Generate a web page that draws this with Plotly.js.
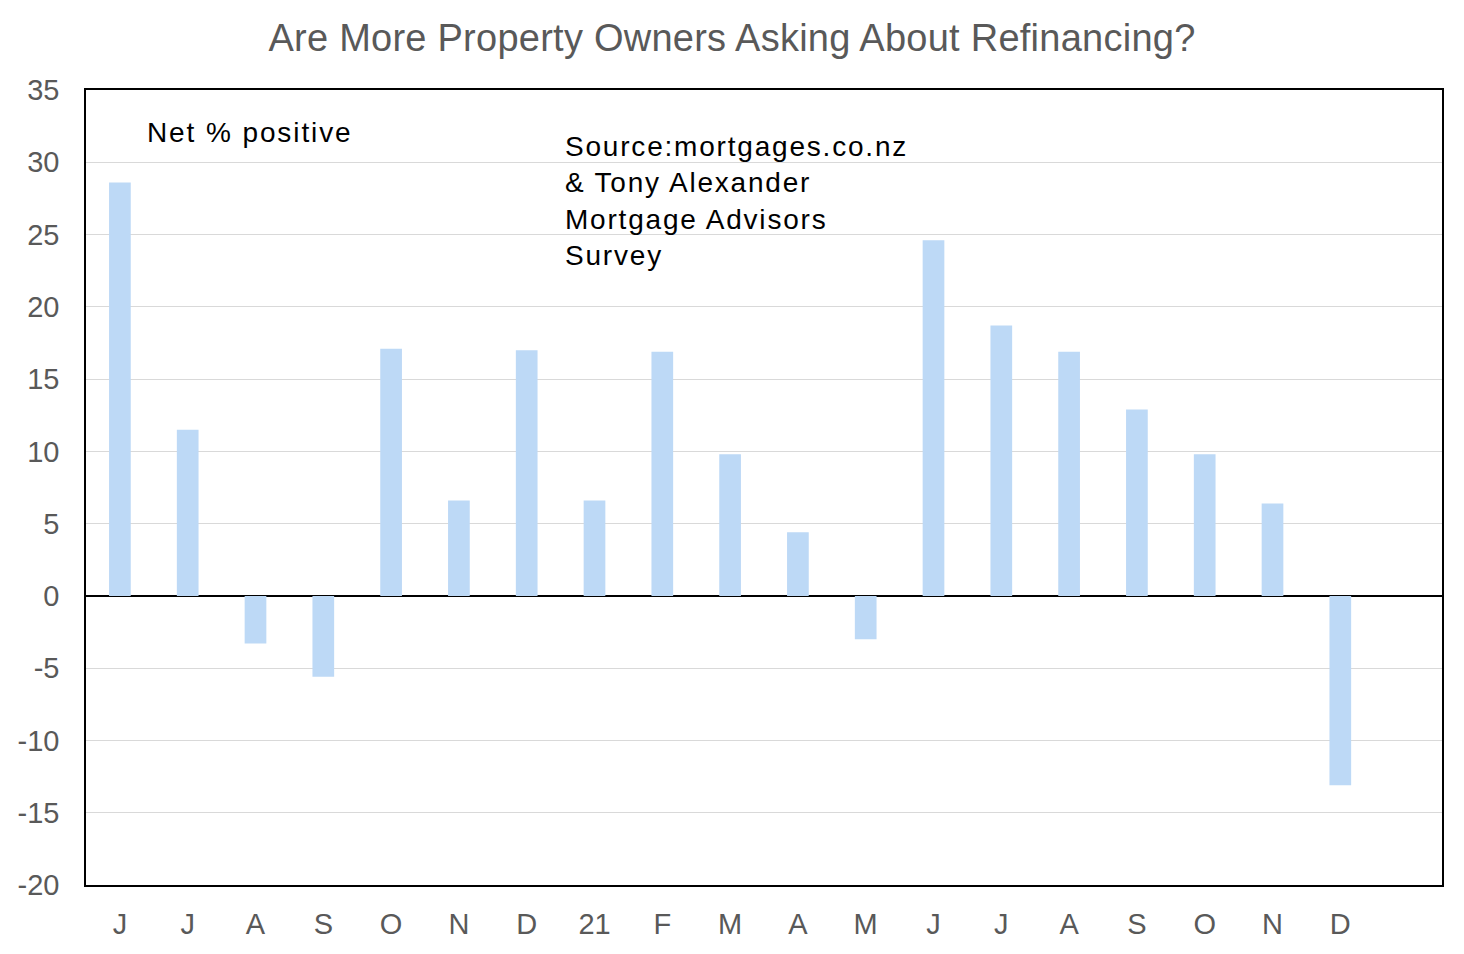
<!DOCTYPE html>
<html>
<head>
<meta charset="utf-8">
<script src="https://cdn.plot.ly/plotly-3.0.1.min.js"></script>
<style>
  body { margin: 0; background: #fff; }
</style>
</head>
<body>
<div id="chart"></div>
<script>
// month labels, Jun 2020 .. Dec 2021
var months = ['J', 'J', 'A', 'S', 'O', 'N', 'D', '21', 'F', 'M', 'A', 'M', 'J', 'J', 'A', 'S', 'O', 'N', 'D'];
var netPositive = [28.6, 11.5, -3.3, -5.6, 17.1, 6.6, 17.0, 6.6, 16.9, 9.8, 4.4, -3.0, 24.6, 18.7, 16.9, 12.9, 9.8, 6.4, -13.1];
var yTicks = [-20, -15, -10, -5, 0, 5, 10, 15, 20, 25, 30, 35];

var idx = months.map(function (m, i) { return i; });
// plain hyphen for negatives, like the original
var yTickText = yTicks.map(function (v) { return String(v); });

// wider letter spacing, as the source text is rendered
function spaced(s, px) {
  return '<span style="letter-spacing:' + px + 'px">' + s + '</span>';
}

var data = [{
  x: idx,
  y: netPositive,
  type: 'bar',
  width: 0.32,
  marker: { color: '#bdd9f6' },
  hoverinfo: 'y'
}];

var layout = {
  width: 1464,
  height: 954,
  showlegend: false,
  paper_bgcolor: '#fff',
  plot_bgcolor: '#fff',
  font: { family: 'Liberation Sans, Arial, sans-serif', color: '#595959' },
  margin: { l: 86, r: 22, t: 90, b: 69 },
  title: {
    text: spaced('Are More Property Owners Asking About Refinancing?', 0.25),
    x: 0.5,
    xref: 'container',
    xanchor: 'center',
    y: 0.96,
    yref: 'container',
    yanchor: 'middle',
    font: { size: 38, color: '#595959' }
  },
  xaxis: {
    range: [-0.5, 19.5],
    tickvals: idx,
    ticktext: months,
    showgrid: false,
    zeroline: false,
    showline: true,
    mirror: true,
    linecolor: '#000',
    linewidth: 1.5,
    ticks: '',
    ticklabelstandoff: 12,
    tickfont: { size: 29, color: '#595959' }
  },
  yaxis: {
    range: [-20, 35],
    tickvals: yTicks,
    ticktext: yTickText,
    showgrid: true,
    gridcolor: '#d9d9d9',
    gridwidth: 1,
    zeroline: true,
    zerolinecolor: '#000',
    zerolinewidth: 1.5,
    showline: true,
    mirror: true,
    linecolor: '#000',
    linewidth: 1.5,
    ticks: '',
    ticklabelstandoff: 19,
    tickfont: { size: 29, color: '#595959' }
  },
  annotations: [
    {
      xref: 'paper', yref: 'paper',
      x: 0.0435, y: 0.946,
      xanchor: 'left', yanchor: 'middle',
      text: spaced('Net % positive', 1.9),
      showarrow: false,
      font: { size: 28, color: '#000' }
    },
    {
      xref: 'paper', yref: 'paper',
      x: 0.352, y: 0.951,
      xanchor: 'left', yanchor: 'top',
      align: 'left',
      text: [
        spaced('Source:mortgages.co.nz', 1.8),
        spaced('&amp; Tony Alexander', 1.8),
        spaced('Mortgage Advisors', 1.8),
        spaced('Survey', 1.8)
      ].join('<br>'),
      showarrow: false,
      font: { size: 28, color: '#000' }
    }
  ]
};

Plotly.newPlot('chart', data, layout, { displayModeBar: false });
</script>
</body>
</html>
